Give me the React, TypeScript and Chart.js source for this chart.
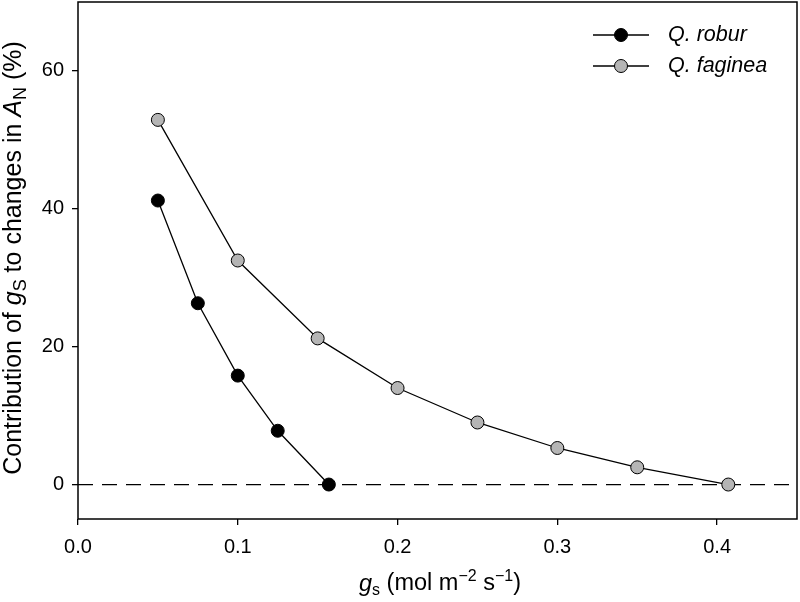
import React, { useEffect, useRef } from "react";
import { Chart, registerables } from "chart.js";

Chart.register(...registerables);

const roburX = [0.05, 0.075, 0.1, 0.125, 0.157];
const roburY = [41.2, 26.3, 15.8, 7.8, 0];
const faginea_X = [0.05, 0.1, 0.15, 0.2, 0.25, 0.3, 0.35, 0.407];
const fagineaY = [52.9, 32.5, 21.2, 14.0, 9.0, 5.3, 2.5, 0];
const xTicks = [0, 0.1, 0.2, 0.3, 0.4];
const yTicks = [0, 20, 40, 60];
const seriesNames = ["Q. robur", "Q. faginea"];

const FONT = "'Liberation Sans', Arial, sans-serif";
const GREY = "#b5b5b5";

type Seg = { t: string; it?: boolean; sub?: boolean; sup?: boolean };

function drawRich(ctx: CanvasRenderingContext2D, segs: Seg[], size: number) {
  const fontFor = (s: Seg) => {
    const sz = s.sub || s.sup ? Math.round(size * 0.7) : size;
    return `${s.it ? "italic " : ""}${sz}px ${FONT}`;
  };
  let total = 0;
  const widths = segs.map((s) => {
    ctx.font = fontFor(s);
    const w = ctx.measureText(s.t).width;
    total += w;
    return w;
  });
  let x = -total / 2;
  ctx.textBaseline = "middle";
  ctx.textAlign = "left";
  segs.forEach((s, i) => {
    ctx.font = fontFor(s);
    let dy = 0;
    if (s.sub) dy = size * 0.3;
    if (s.sup) dy = -size * 0.33;
    ctx.fillText(s.t, x, dy);
    x += widths[i];
  });
}

const decor = {
  id: "decor",
  beforeDatasetsDraw(chart: any) {
    const { ctx, chartArea, scales } = chart;
    const y0 = scales.y.getPixelForValue(0);
    ctx.save();
    ctx.strokeStyle = "#000";
    ctx.lineWidth = 1.3;
    ctx.setLineDash([15, 9]);
    ctx.beginPath();
    ctx.moveTo(chartArea.left, y0);
    ctx.lineTo(chartArea.right, y0);
    ctx.stroke();
    ctx.restore();
  },
  afterDraw(chart: any) {
    const { ctx, chartArea } = chart;
    ctx.save();
    ctx.strokeStyle = "#000";
    ctx.lineWidth = 1.5;
    ctx.strokeRect(chartArea.left, chartArea.top, chartArea.right - chartArea.left, chartArea.bottom - chartArea.top);

    // legend
    const legendItems = [
      { name: seriesNames[0], fill: "#000", y: 35 },
      { name: seriesNames[1], fill: GREY, y: 66 },
    ];
    legendItems.forEach((it) => {
      ctx.lineWidth = 1.3;
      ctx.strokeStyle = "#000";
      ctx.beginPath();
      ctx.moveTo(593, it.y);
      ctx.lineTo(649, it.y);
      ctx.stroke();
      ctx.beginPath();
      ctx.arc(621, it.y, 6.5, 0, Math.PI * 2);
      ctx.fillStyle = it.fill;
      ctx.fill();
      ctx.lineWidth = 1;
      ctx.stroke();
      ctx.fillStyle = "#000";
      ctx.font = `italic 21.5px ${FONT}`;
      ctx.textAlign = "left";
      ctx.textBaseline = "middle";
      ctx.fillText(it.name, 668, it.y);
    });

    // x title
    ctx.fillStyle = "#000";
    ctx.save();
    ctx.translate(440, 584);
    drawRich(
      ctx,
      [
        { t: "g", it: true },
        { t: "s", sub: true },
        { t: " (mol m" },
        { t: "\u22122", sup: true },
        { t: " s" },
        { t: "\u22121", sup: true },
        { t: ")" },
      ],
      23.5
    );
    ctx.restore();

    // y title
    ctx.save();
    ctx.translate(14, 258);
    ctx.rotate(-Math.PI / 2);
    drawRich(
      ctx,
      [
        { t: "Contribution of " },
        { t: "g", it: true },
        { t: "S", sub: true },
        { t: " to changes in " },
        { t: "A", it: true },
        { t: "N", sub: true },
        { t: " (%)" },
      ],
      25
    );
    ctx.restore();
    ctx.restore();
  },
};

export default function App() {
  const ref = useRef<HTMLCanvasElement>(null);
  useEffect(() => {
    const canvas = ref.current!;
    const chart = new Chart(canvas, {
      type: "scatter",
      data: {
        datasets: [
          {
            label: seriesNames[0],
            data: roburX.map((x, i) => ({ x, y: roburY[i] })),
            showLine: true,
            borderColor: "#000",
            borderWidth: 1.3,
            pointBackgroundColor: "#000",
            pointBorderColor: "#000",
            pointBorderWidth: 1,
            pointRadius: 6.5,
          },
          {
            label: seriesNames[1],
            data: faginea_X.map((x, i) => ({ x, y: fagineaY[i] })),
            showLine: true,
            borderColor: "#000",
            borderWidth: 1.3,
            pointBackgroundColor: GREY,
            pointBorderColor: "#000",
            pointBorderWidth: 1,
            pointRadius: 6.5,
          },
        ],
      },
      options: {
        animation: false,
        responsive: false,
        devicePixelRatio: 1,
        layout: { autoPadding: false, padding: { top: 2, right: 3, left: 0, bottom: 0 } },
        plugins: { legend: { display: false }, tooltip: { enabled: false } },
        scales: {
          x: {
            type: "linear",
            min: 0,
            max: 0.45,
            afterBuildTicks: (s: any) => {
              s.ticks = xTicks.map((v) => ({ value: v }));
            },
            afterFit: (s: any) => {
              s.height = 83;
              s.paddingLeft = 0;
              s.paddingRight = 0;
            },
            ticks: {
              color: "#000",
              font: { family: FONT, size: 20 },
              padding: 10,
              maxRotation: 0,
              callback: (v: any) => Number(v).toFixed(1),
            },
            grid: { drawOnChartArea: false, drawTicks: true, tickLength: 6, color: "#000", lineWidth: 1.3 },
            border: { display: false },
          },
          y: {
            type: "linear",
            min: -5,
            max: 70,
            afterBuildTicks: (s: any) => {
              s.ticks = yTicks.map((v) => ({ value: v }));
            },
            afterFit: (s: any) => {
              s.width = 78;
              s.paddingTop = 0;
              s.paddingBottom = 0;
            },
            ticks: {
              color: "#000",
              font: { family: FONT, size: 20 },
              padding: 8,
              callback: (v: any) => String(v),
            },
            grid: { drawOnChartArea: false, drawTicks: true, tickLength: 6, color: "#000", lineWidth: 1.3 },
            border: { display: false },
          },
        },
      },
      plugins: [decor],
    });
    return () => chart.destroy();
  }, []);
  return (
    <div style={{ position: "fixed", left: 0, top: 0, width: 800, height: 602, background: "#fff" }}>
      <canvas ref={ref} width={800} height={602} />
    </div>
  );
}
